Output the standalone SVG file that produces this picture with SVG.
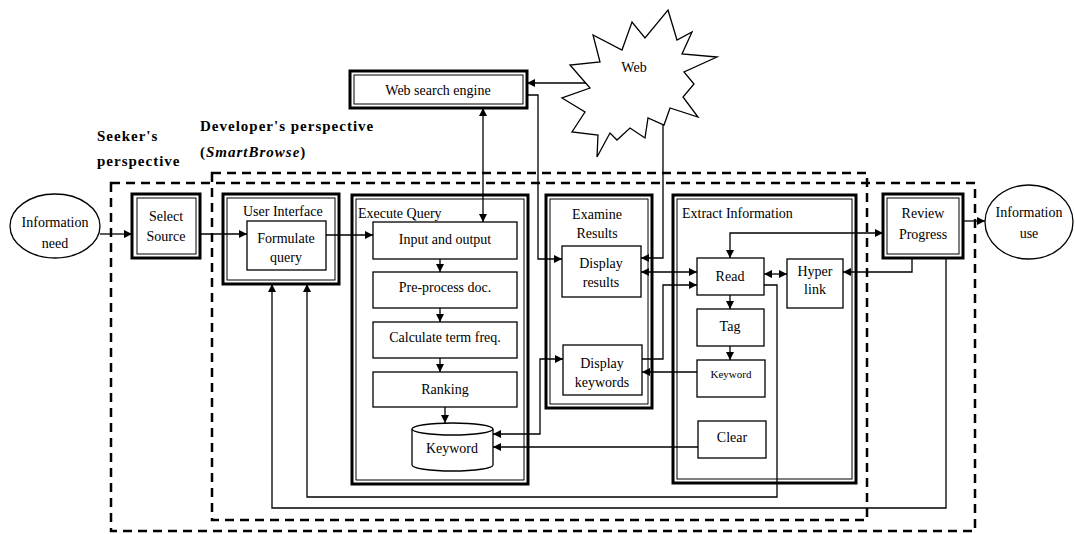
<svg xmlns="http://www.w3.org/2000/svg" width="1075" height="534" viewBox="0 0 1075 534">
<defs>
<marker id="ah" viewBox="0 0 10 10" refX="10" refY="5" markerWidth="9" markerHeight="8" markerUnits="userSpaceOnUse" orient="auto-start-reverse">
<path d="M0,0 L10,5 L0,10 z" fill="#000"/>
</marker>
<style>
text{font-family:"Liberation Serif","Times New Roman",serif;font-size:14px;fill:#000}
.t{text-anchor:middle}
.hd{font-weight:bold;font-size:15px;letter-spacing:1px}
.it{font-style:italic}
.dash{fill:none;stroke:#000;stroke-width:2.5;stroke-dasharray:9 6}
.ob{fill:#fff;stroke:#000;stroke-width:3}
.ib{fill:none;stroke:#000;stroke-width:1}
.nb{fill:#fff;stroke:#000;stroke-width:1.3}
.c{fill:none;stroke:#000;stroke-width:1.3}
.ca{fill:none;stroke:#000;stroke-width:1.3;marker-end:url(#ah)}
.cb{fill:none;stroke:#000;stroke-width:1.3;marker-end:url(#ah);marker-start:url(#ah)}
</style>
</defs>
<rect width="1075" height="534" fill="#fff"/>

<g id="perspectives">
<rect class="dash" x="111" y="183" width="864" height="348"/>
<rect class="dash" x="212" y="173" width="655" height="347"/>
<text class="hd" x="97" y="141">Seeker's</text>
<text class="hd" x="97" y="166">perspective</text>
<text class="hd" x="200" y="131">Developer's perspective</text>
<text class="hd" x="200" y="157">(<tspan class="it">SmartBrowse</tspan>)</text>
</g>

<g id="web">
<polygon class="nb" points="668,10 677,40 692,32 682,54 717,57 684,72 694,84 683,97 698,117 670,108 664,125 648,118 645,138 630,128 617,140 610,133 597,157 598,135 572,132 585,112 562,98 590,88 570,65 600,62 593,35 622,50 632,22 645,38"/>
<text class="t" x="634" y="72">Web</text>
</g>

<g id="web-search-engine">
<rect class="ob" x="350" y="71" width="177" height="37"/>
<rect class="ib" x="354" y="75" width="169" height="29"/>
<text class="t" x="438" y="95">Web search engine</text>
</g>

<g id="information-need">
<ellipse class="nb" cx="55" cy="226" rx="45" ry="32"/>
<text class="t" x="55" y="227">Information</text>
<text class="t" x="55" y="248">need</text>
</g>

<g id="select-source">
<rect class="ob" x="132" y="194" width="68" height="64"/>
<rect class="ib" x="137" y="198" width="59" height="56"/>
<text class="t" x="166" y="221">Select</text>
<text class="t" x="166" y="241">Source</text>
</g>

<g id="user-interface">
<rect class="ob" x="223" y="194" width="116" height="90"/>
<rect class="ib" x="227" y="198" width="108" height="82"/>
<text x="243" y="216">User Interface</text>
</g>
<g id="formulate-query">
<rect class="nb" x="247" y="221" width="79" height="49"/>
<text class="t" x="286" y="243">Formulate</text>
<text class="t" x="286" y="262">query</text>
</g>

<g id="execute-query">
<rect class="ob" x="352" y="195" width="176" height="289"/>
<rect class="ib" x="356" y="199" width="168" height="281"/>
<text x="358" y="218">Execute Query</text>
</g>
<g id="input-output">
<rect class="nb" x="373" y="222" width="144" height="37"/>
<text class="t" x="445" y="244">Input and output</text>
</g>
<g id="pre-process">
<rect class="nb" x="373" y="272" width="144" height="36"/>
<text class="t" x="445" y="292">Pre-process doc.</text>
</g>
<g id="calculate">
<rect class="nb" x="373" y="322" width="144" height="36"/>
<text class="t" x="445" y="342">Calculate term freq.</text>
</g>
<g id="ranking">
<rect class="nb" x="373" y="372" width="144" height="35"/>
<text class="t" x="445" y="394">Ranking</text>
</g>
<g id="keyword-store">
<path class="nb" d="M412,429 A40.5,6 0 0 1 493,429 L493,465 A40.5,6 0 0 1 412,465 Z"/>
<path class="c" d="M412,429 A40.5,6 0 0 0 493,429"/>
<text class="t" x="452" y="453">Keyword</text>
</g>

<g id="examine-results">
<rect class="ob" x="546" y="195" width="106" height="213"/>
<rect class="ib" x="550" y="199" width="98" height="205"/>
<text class="t" x="597" y="219">Examine</text>
<text class="t" x="597" y="238">Results</text>
</g>
<g id="display-results">
<rect class="nb" x="562" y="246" width="79" height="51"/>
<text class="t" x="601" y="268">Display</text>
<text class="t" x="601" y="287">results</text>
</g>
<g id="display-keywords">
<rect class="nb" x="563" y="345" width="79" height="50"/>
<text class="t" x="602" y="368">Display</text>
<text class="t" x="602" y="387">keywords</text>
</g>

<g id="extract-information">
<rect class="ob" x="673" y="195" width="183" height="288"/>
<rect class="ib" x="677" y="199" width="175" height="280"/>
<text x="682" y="218">Extract Information</text>
</g>
<g id="read">
<rect class="nb" x="697" y="258" width="67" height="37"/>
<text class="t" x="730" y="281">Read</text>
</g>
<g id="hyperlink">
<rect class="nb" x="787" y="259" width="56" height="49"/>
<text class="t" x="815" y="276">Hyper</text>
<text class="t" x="815" y="294">link</text>
</g>
<g id="tag">
<rect class="nb" x="697" y="309" width="67" height="37"/>
<text class="t" x="730" y="331">Tag</text>
</g>
<g id="keyword-tag">
<rect class="nb" x="697" y="360" width="68" height="37"/>
<text class="t" x="731" y="378" style="font-size:11px">Keyword</text>
</g>
<g id="clear">
<rect class="nb" x="698" y="421" width="68" height="37"/>
<text class="t" x="732" y="442">Clear</text>
</g>

<g id="review-progress">
<rect class="ob" x="883" y="194" width="80" height="64"/>
<rect class="ib" x="887" y="198" width="72" height="56"/>
<text class="t" x="923" y="218">Review</text>
<text class="t" x="923" y="239">Progress</text>
</g>

<g id="information-use">
<ellipse class="nb" cx="1029" cy="222" rx="44" ry="37"/>
<text class="t" x="1029" y="217">Information</text>
<text class="t" x="1029" y="238">use</text>
</g>

<g id="connectors">
<line class="ca" x1="100" y1="234" x2="132" y2="234"/>
<line class="ca" x1="200" y1="234" x2="247" y2="234"/>
<line class="ca" x1="326" y1="235" x2="373" y2="235"/>
<line class="ca" x1="963" y1="221" x2="985" y2="221"/>
<line class="ca" x1="586" y1="83" x2="527" y2="83"/>
<line class="cb" x1="483" y1="108" x2="483" y2="222"/>
<polyline class="ca" points="527,95 538,95 538,259 562,259"/>
<polyline class="ca" points="663,124 663,258 641,258"/>
<line class="ca" x1="440" y1="259" x2="440" y2="272"/>
<line class="ca" x1="440" y1="308" x2="440" y2="322"/>
<line class="ca" x1="440" y1="358" x2="440" y2="372"/>
<line class="ca" x1="445" y1="407" x2="445" y2="423"/>
<line class="ca" x1="730" y1="295" x2="730" y2="309"/>
<line class="ca" x1="730" y1="346" x2="730" y2="360"/>
<line class="cb" x1="641" y1="272" x2="697" y2="272"/>
<polyline class="ca" points="642,359 663,359 663,285 697,285"/>
<line class="ca" x1="697" y1="372" x2="642" y2="372"/>
<polyline class="cb" points="563,359 540,359 540,434 493,434"/>
<line class="ca" x1="698" y1="447" x2="493" y2="447"/>
<line class="cb" x1="764" y1="274" x2="787" y2="274"/>
<polyline class="cb" points="730,258 730,233 883,233"/>
<polyline class="ca" points="912,258 912,272 843,272"/>
<polyline class="ca" points="764,285 777,285 777,497 307,497 307,284"/>
<polyline class="ca" points="946,258 946,508 272,508 272,284"/>
</g>
</svg>
